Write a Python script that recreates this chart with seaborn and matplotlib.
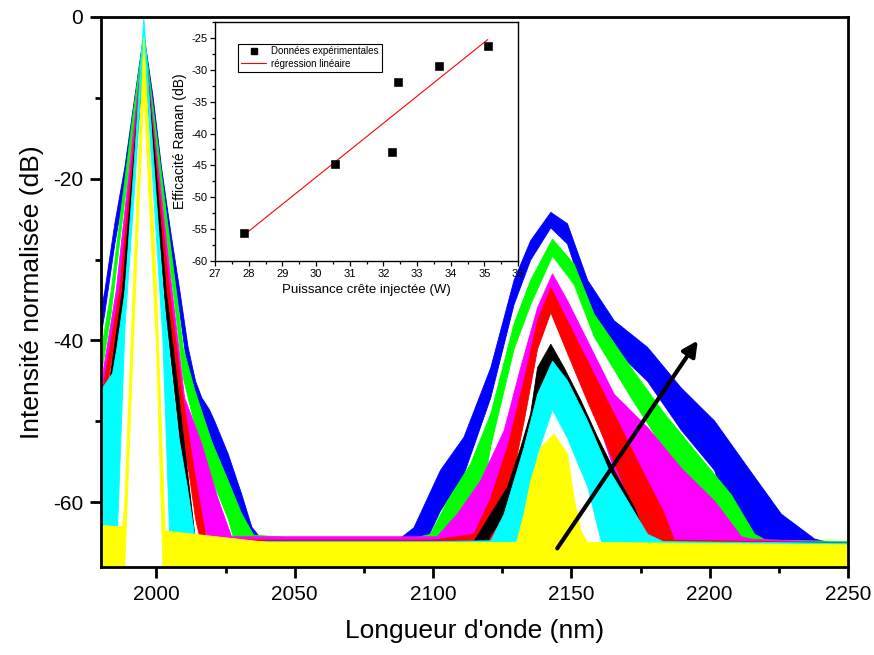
import numpy as np
import pandas as pd
import seaborn as sns
import matplotlib.pyplot as plt
from matplotlib.ticker import MultipleLocator
from matplotlib.lines import Line2D

# spectra: wavelength (nm), upper edge and lower edge of each noisy trace (dB)
blue_nm = [1980, 1981.2, 1984.8, 1988.4, 1992, 1995.3, 1998.7, 2001.7, 2005, 2008.3, 2011.3, 2014, 2016.2, 2019,
           2021, 2025.8, 2030.7, 2034.3, 2038, 2060, 2085, 2088, 2092.9, 2102.5, 2111, 2120.7, 2129.1, 2135.1,
           2142.4, 2148.4, 2155.7, 2165.3, 2177.4, 2189.5, 2201.6, 2213.7, 2225.7, 2237.8, 2250]
blue_hi = [-36, -33.8, -25.5, -18.6, -9.9, -2, -10, -18.6, -26.5, -33.8, -40.8, -45, -47, -48.5, -50, -54, -59,
           -63, -64.6, -64.6, -64.6, -64.4, -63.1, -56, -51.9, -43.3, -32.5, -27.6, -24.1, -25.5, -32.5, -37.5,
           -40.8, -45.8, -49.9, -55.7, -61.4, -64.5, -65.5]
blue_lo = [-39, -36.5, -28, -21, -12.5, -4, -12.5, -21, -29, -36.5, -44, -49, -51.5, -53.5, -55.5, -60, -68, -68,
           -68, -68, -68, -68, -68, -61, -56.5, -47, -35.5, -30, -26, -28, -35.5, -41, -45, -51, -56, -68, -68,
           -68, -68]

green_nm = [1980, 1983.5, 1987, 1991, 1995.3, 1999, 2003, 2007, 2009.5, 2013.8, 2019.8, 2025.8, 2030.7, 2035,
            2060, 2090, 2098.9, 2105, 2113.4, 2120.7, 2129.1, 2135.1, 2143, 2150.8, 2158.1, 2171.4, 2183.5,
            2195.5, 2207.6, 2216.1, 2220, 2250]
green_hi = [-41, -33.8, -24, -13, -2, -12, -23, -33.8, -40.8, -46.2, -52.4, -57.3, -61.4, -64, -64.6, -64.6,
            -63.9, -59.8, -55.2, -49, -37.9, -32.5, -27.4, -30.5, -36.7, -43.3, -49, -54, -59, -63.9, -64.6, -64.8]
green_lo = [-44, -36.5, -26.5, -15.5, -4, -14.5, -25.5, -37, -44.5, -50.5, -57, -62, -68, -68, -68, -68, -68,
            -68, -68, -53, -41, -35.5, -29.5, -33, -39.5, -47, -53.5, -59, -65, -68, -68, -68]

magenta_nm = [1980, 1985.3, 1990, 1995.3, 2000, 2005.5, 2010, 2016.2, 2022, 2027, 2040, 2070, 2095, 2101.3,
              2108.6, 2117, 2125.5, 2131.5, 2137.6, 2143, 2148.4, 2155.7, 2165.3, 2177.4, 2189.5, 2201.6,
              2211.3, 2215, 2250]
magenta_hi = [-45, -33.8, -19, -2.5, -17, -33.8, -47, -52.7, -59.4, -64.2, -64.2, -64.2, -64.2, -64.2, -61.4,
              -57.3, -51.1, -43.3, -35.9, -31.7, -35, -40, -46.6, -50.7, -55.7, -59.8, -64.2, -64.5, -65]
magenta_lo = [-48, -37, -22, -5, -20, -38, -54, -62, -68, -68, -68, -68, -68, -68, -68, -68, -60, -49, -40,
              -35, -39, -46, -56, -63, -68, -68, -68, -68, -68]

red_nm = [1980, 1986.5, 1991, 1995.3, 2000, 2004.6, 2009, 2014, 2018, 2040, 2070, 2100, 2114.6, 2120.7, 2126.7,
          2132.7, 2137.6, 2142.4, 2148.4, 2155.7, 2165.3, 2175, 2183.5, 2187, 2250]
red_hi = [-47, -33.8, -18, -2.5, -18.5, -33.8, -46, -57, -64.6, -64.6, -64.6, -64.6, -63.9, -59.4, -53.2, -44.9,
          -37.5, -33.4, -37.5, -42.5, -49, -55.7, -61.4, -64.6, -65]
red_lo = [-50, -36.5, -21, -5, -21.5, -37.5, -50, -62, -68, -68, -68, -68, -68, -66, -60, -50, -41, -36.5,
          -41.5, -47.5, -55, -63, -68, -68, -68]

black_nm = [1980, 1987.5, 1991.5, 1995.3, 1999.5, 2003.4, 2007, 2010, 2014, 2040, 2070, 2100, 2114.6, 2120.7,
            2126.7, 2131.5, 2135.1, 2137.6, 2142.4, 2147.2, 2153.3, 2159.3, 2165.3, 2172.6, 2177.4, 2250]
black_hi = [-52, -33.8, -18, -2.5, -18, -33.8, -44, -53, -64.8, -64.8, -64.8, -64.8, -64.8, -61.4, -58.1, -53.2,
            -49, -43.3, -40.4, -43.3, -47.4, -51.9, -56, -60.6, -64.8, -65]
black_lo = [-55, -36.5, -21, -5, -21, -37, -48, -58, -68, -68, -68, -68, -68, -64, -61, -57, -52, -46.5, -43.5,
            -46.5, -51, -56, -61, -66, -68, -68]

cyan_nm = [1980, 1984, 1985.5, 1988.5, 1992, 1995.3, 1998.5, 2002.2, 2005, 2008, 2011, 2014, 2040, 2070, 2100,
           2120.7, 2125.5, 2129.1, 2132.7, 2137.6, 2143, 2148.4, 2155.7, 2163, 2170.2, 2177.4, 2183, 2250]
cyan_hi = [-46, -44, -41, -33.8, -17, 0, -16, -33.8, -43, -52, -58, -64.8, -64.8, -64.8, -64.8, -64.7, -61.4,
           -57.3, -53.2, -46.6, -42.5, -44.9, -49.9, -55.7, -59.8, -63.9, -64.8, -65]
cyan_lo = [-68, -68, -66, -38, -21, -3, -20, -40, -68, -68, -68, -68, -68, -68, -68, -68, -68, -66, -62, -54,
           -48.5, -52, -58, -68, -68, -68, -68, -68]

yellow_nm = [1980, 1987.6, 1988.4, 1991.4, 1995.3, 1999.9, 2002.2, 2003, 2040, 2100, 2130, 2132.7, 2135.1,
             2138.8, 2143.6, 2148.4, 2150.8, 2153.3, 2155.7, 2250]
yellow_hi = [-62.8, -63, -60, -33.8, -2.5, -33.8, -56, -63.5, -64.9, -64.9, -64.9, -61.4, -57.3, -53.2, -51.5,
             -54, -59.4, -63.5, -64.9, -65.2]
yellow_lo = [-68, -68, -68, -41, -9, -41, -68, -68, -68, -68, -68, -68, -68, -68, -68, -68, -68, -68, -68, -68]

# inset: Raman efficiency vs injected peak power
power = [27.87, 30.55, 32.25, 32.45, 33.65, 35.1]
efficiency = [-55.6, -44.8, -42.9, -31.9, -29.4, -26.3]

# arrow (increasing power)
arrow_start = (2144.9, -65.7)
arrow_end = (2195.7, -40)

sns.set_style("ticks", {"axes.edgecolor": "black", "xtick.color": "black", "ytick.color": "black",
                        "text.color": "black", "axes.labelcolor": "black"})
plt.rcParams['font.family'] = ['Liberation Sans', 'DejaVu Sans']
plt.rcParams['axes.unicode_minus'] = False

fig = plt.figure(figsize=(8.74, 6.55), dpi=100)
ax = fig.add_axes([0.1156, 0.1344, 0.8547, 0.8397])

spectra = [
    ("#0000ff", blue_nm, blue_hi, blue_lo),
    ("#00ff00", green_nm, green_hi, green_lo),
    ("#ff00ff", magenta_nm, magenta_hi, magenta_lo),
    ("#ff0000", red_nm, red_hi, red_lo),
    ("#000000", black_nm, black_hi, black_lo),
    ("#00ffff", cyan_nm, cyan_hi, cyan_lo),
    ("#ffff00", yellow_nm, yellow_hi, yellow_lo),
]
for color, nm, hi, lo in spectra:
    ax.fill_between(nm, lo, hi, color=color, lw=0.6, ec=color)

ax.annotate("", xy=arrow_end, xytext=arrow_start,
            arrowprops=dict(arrowstyle="-|>,head_length=0.9,head_width=0.45", lw=3, color="black",
                            shrinkA=0, shrinkB=0))

ax.set_xlim(1980, 2250)
ax.set_ylim(-68, 0)
ax.xaxis.set_major_locator(MultipleLocator(50))
ax.xaxis.set_minor_locator(MultipleLocator(25))
ax.yaxis.set_major_locator(MultipleLocator(20))
ax.yaxis.set_minor_locator(MultipleLocator(10))
ax.tick_params(which="major", length=8, width=2, labelsize=15, direction="out", pad=5)
ax.tick_params(which="minor", length=4, width=2, direction="out")
for s in ax.spines.values():
    s.set_linewidth(2)
ax.set_xlabel("Longueur d'onde (nm)", fontsize=19, labelpad=11)
ax.set_ylabel("Intensité normalisée (dB)", fontsize=19, labelpad=6)

# inset
axin = fig.add_axes([0.246, 0.6015, 0.3467, 0.365])
axin.set_facecolor("white")
df = pd.DataFrame({"power": power, "eff": efficiency})
sns.regplot(data=df, x="power", y="eff", ax=axin, scatter=False, ci=None, color="red",
            line_kws=dict(lw=0.8))
sns.scatterplot(data=df, x="power", y="eff", ax=axin, marker="s", color="black", s=30,
                edgecolor="black", zorder=3, legend=False)
axin.set_xlim(27, 36)
axin.set_ylim(-60, -22.5)
axin.xaxis.set_major_locator(MultipleLocator(1))
axin.xaxis.set_minor_locator(MultipleLocator(0.5))
axin.yaxis.set_major_locator(MultipleLocator(5))
axin.yaxis.set_minor_locator(MultipleLocator(2.5))
axin.tick_params(which="major", length=3.5, width=0.9, labelsize=8, pad=2)
axin.tick_params(which="minor", length=2, width=0.9)
for s in axin.spines.values():
    s.set_linewidth(1)
axin.set_xlabel("Puissance crête injectée (W)", fontsize=9.5, labelpad=4)
axin.set_ylabel("Efficacité Raman (dB)", fontsize=10, labelpad=3)

handles = [Line2D([], [], marker="s", ls="", color="black", markersize=4),
           Line2D([], [], color="red", lw=0.8)]
leg = axin.legend(handles, ["Données expérimentales", "régression linéaire"], loc="upper left",
                  bbox_to_anchor=(0.06, 0.93), fontsize=7, frameon=True, fancybox=False,
                  edgecolor="black", framealpha=1, handlelength=2.6, borderpad=0.3,
                  labelspacing=0.25, handletextpad=0.5)
leg.get_frame().set_linewidth(0.8)

fig.savefig("out.png", dpi=100)
